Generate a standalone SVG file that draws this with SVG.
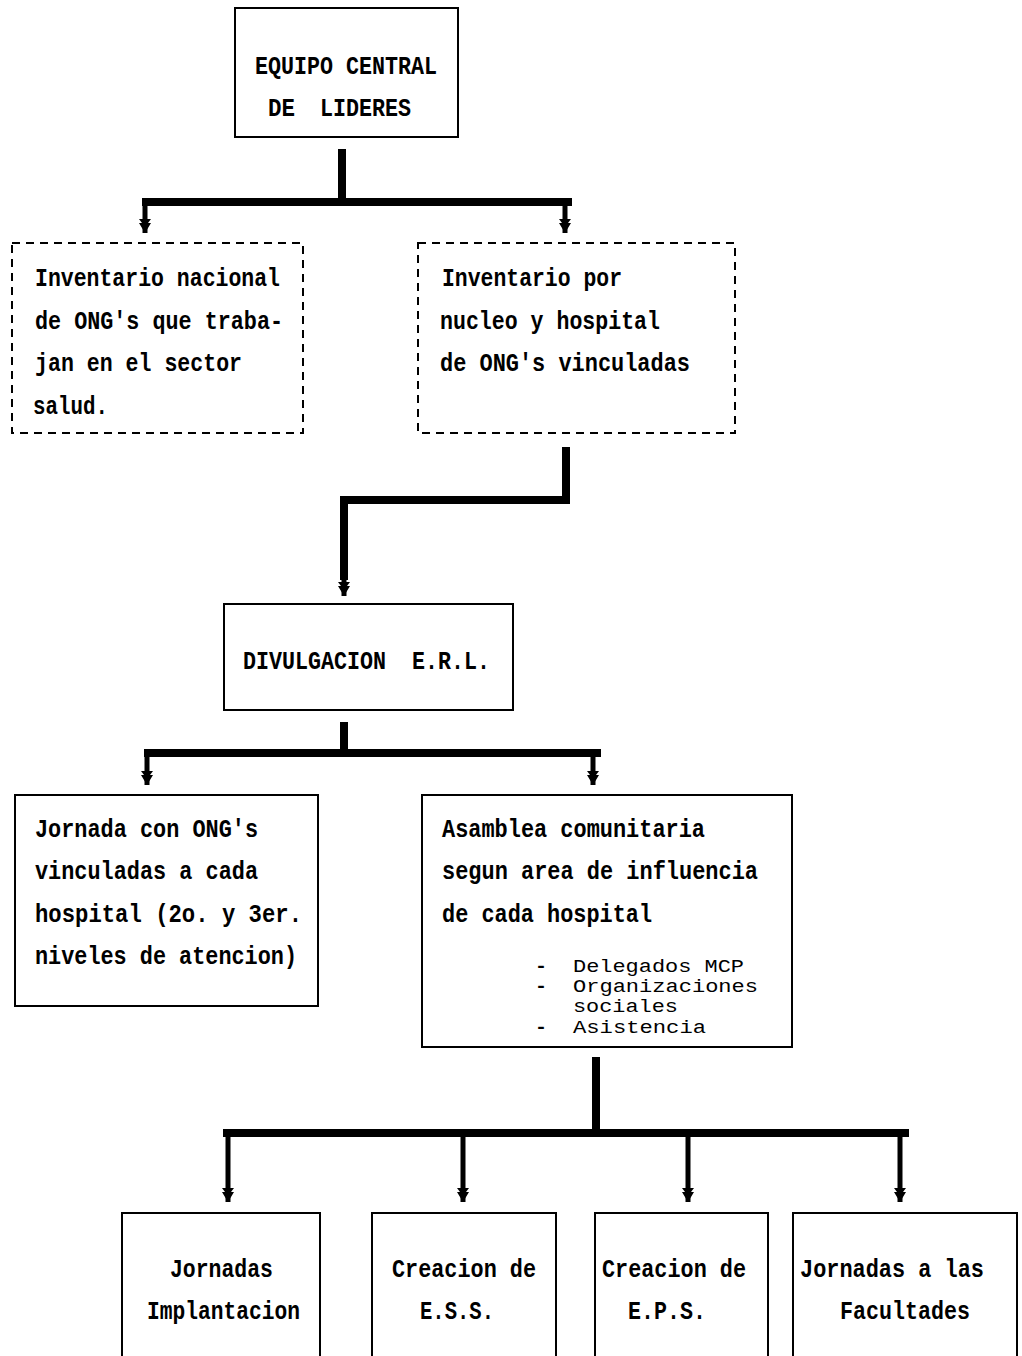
<svg xmlns="http://www.w3.org/2000/svg" width="1022" height="1356" viewBox="0 0 1022 1356">
<style>
.box{fill:#fff;stroke:#000;stroke-width:2}
.dash{fill:none;stroke:#000;stroke-width:2;stroke-dasharray:8 6}
.t{font-family:"Liberation Mono","DejaVu Sans Mono",monospace;font-size:26px;font-weight:bold;fill:#000}
.s{font-family:"Liberation Mono","DejaVu Sans Mono",monospace;font-size:18px;fill:#000}
.d{font-family:"Liberation Mono","DejaVu Sans Mono",monospace;font-size:18px;font-weight:bold;fill:#000}
.bar{fill:none;stroke:#000;stroke-width:8;stroke-linejoin:miter}
.drop{fill:none;stroke:#000;stroke-width:5}
</style>
<defs>
<marker id="ah" markerUnits="userSpaceOnUse" markerWidth="16" markerHeight="14" refX="15" refY="7" orient="auto" viewBox="0 0 16 14">
<path d="M1,1 L5,4 L5,1 L15,7 L5,13 L5,10 L1,13 Z" fill="#000"/>
</marker>
</defs>
<rect width="1022" height="1356" fill="#fff"/>
<g id="connectors">
<path class="bar" d="M342,149 V202"/>
<path class="bar" d="M142,202 H572"/>
<path class="drop" d="M145,202 V233" marker-end="url(#ah)"/>
<path class="drop" d="M565,202 V233" marker-end="url(#ah)"/>
<path class="bar" d="M566,447 V500 H344 V580"/>
<path class="drop" d="M344,575 V596" marker-end="url(#ah)"/>
<path class="bar" d="M344,722 V753"/>
<path class="bar" d="M144,753 H601"/>
<path class="drop" d="M147,753 V785" marker-end="url(#ah)"/>
<path class="drop" d="M593,753 V785" marker-end="url(#ah)"/>
<path class="bar" d="M596,1057 V1133"/>
<path class="bar" d="M223,1133 H909"/>
<path class="drop" d="M228,1133 V1202" marker-end="url(#ah)"/>
<path class="drop" d="M463,1133 V1202" marker-end="url(#ah)"/>
<path class="drop" d="M688,1133 V1202" marker-end="url(#ah)"/>
<path class="drop" d="M900,1133 V1202" marker-end="url(#ah)"/>
</g>
<g id="equipo">
<rect class="box" x="235" y="8" width="223" height="129"/>
<text class="t" x="255" y="74" textLength="182" lengthAdjust="spacingAndGlyphs">EQUIPO CENTRAL</text>
<text class="t" x="268" y="116" textLength="27" lengthAdjust="spacingAndGlyphs">DE</text>
<text class="t" x="320" y="116" textLength="91" lengthAdjust="spacingAndGlyphs">LIDERES</text>
</g>
<g id="inv-nacional">
<rect class="dash" x="12" y="243" width="291" height="190"/>
<text class="t" x="35" y="286" textLength="245" lengthAdjust="spacingAndGlyphs">Inventario nacional</text>
<text class="t" x="35" y="329" textLength="248" lengthAdjust="spacingAndGlyphs">de ONG's que traba-</text>
<text class="t" x="35" y="371" textLength="207" lengthAdjust="spacingAndGlyphs">jan en el sector</text>
<text class="t" x="33" y="414" textLength="75" lengthAdjust="spacingAndGlyphs">salud.</text>
</g>
<g id="inv-nucleo">
<rect class="dash" x="418" y="243" width="317" height="190"/>
<text class="t" x="442" y="286" textLength="180" lengthAdjust="spacingAndGlyphs">Inventario por</text>
<text class="t" x="440" y="329" textLength="220" lengthAdjust="spacingAndGlyphs">nucleo y hospital</text>
<text class="t" x="440" y="371" textLength="250" lengthAdjust="spacingAndGlyphs">de ONG's vinculadas</text>
</g>
<g id="divulgacion">
<rect class="box" x="224" y="604" width="289" height="106"/>
<text class="t" x="243" y="669" textLength="247" lengthAdjust="spacingAndGlyphs" xml:space="preserve">DIVULGACION  E.R.L.</text>
</g>
<g id="jornada-ong">
<rect class="box" x="15" y="795" width="303" height="211"/>
<text class="t" x="35" y="837" textLength="223" lengthAdjust="spacingAndGlyphs">Jornada con ONG's</text>
<text class="t" x="35" y="879" textLength="223" lengthAdjust="spacingAndGlyphs">vinculadas a cada</text>
<text class="t" x="35" y="922" textLength="267" lengthAdjust="spacingAndGlyphs">hospital (2o. y 3er.</text>
<text class="t" x="35" y="964" textLength="262" lengthAdjust="spacingAndGlyphs">niveles de atencion)</text>
</g>
<g id="asamblea">
<rect class="box" x="422" y="795" width="370" height="252"/>
<text class="t" x="442" y="837" textLength="263" lengthAdjust="spacingAndGlyphs">Asamblea comunitaria</text>
<text class="t" x="442" y="879" textLength="316" lengthAdjust="spacingAndGlyphs">segun area de influencia</text>
<text class="t" x="442" y="922" textLength="210" lengthAdjust="spacingAndGlyphs">de cada hospital</text>
<text class="d" x="535" y="972" textLength="12" lengthAdjust="spacingAndGlyphs">-</text>
<text class="s" x="573" y="972" textLength="171" lengthAdjust="spacingAndGlyphs">Delegados MCP</text>
<text class="d" x="535" y="992" textLength="12" lengthAdjust="spacingAndGlyphs">-</text>
<text class="s" x="573" y="992" textLength="185" lengthAdjust="spacingAndGlyphs">Organizaciones</text>
<text class="s" x="573" y="1012" textLength="105" lengthAdjust="spacingAndGlyphs">sociales</text>
<text class="d" x="535" y="1033" textLength="12" lengthAdjust="spacingAndGlyphs">-</text>
<text class="s" x="573" y="1033" textLength="133" lengthAdjust="spacingAndGlyphs">Asistencia</text>
</g>
<g id="jornadas-implantacion">
<rect class="box" x="122" y="1213" width="198" height="160"/>
<text class="t" x="170" y="1277" textLength="103" lengthAdjust="spacingAndGlyphs">Jornadas</text>
<text class="t" x="147" y="1319" textLength="153" lengthAdjust="spacingAndGlyphs">Implantacion</text>
</g>
<g id="ess">
<rect class="box" x="372" y="1213" width="184" height="160"/>
<text class="t" x="392" y="1277" textLength="144" lengthAdjust="spacingAndGlyphs">Creacion de</text>
<text class="t" x="420" y="1319" textLength="74" lengthAdjust="spacingAndGlyphs">E.S.S.</text>
</g>
<g id="eps">
<rect class="box" x="595" y="1213" width="173" height="160"/>
<text class="t" x="602" y="1277" textLength="144" lengthAdjust="spacingAndGlyphs">Creacion de</text>
<text class="t" x="628" y="1319" textLength="78" lengthAdjust="spacingAndGlyphs">E.P.S.</text>
</g>
<g id="facultades">
<rect class="box" x="793" y="1213" width="224" height="160"/>
<text class="t" x="800" y="1277" textLength="184" lengthAdjust="spacingAndGlyphs">Jornadas a las</text>
<text class="t" x="840" y="1319" textLength="130" lengthAdjust="spacingAndGlyphs">Facultades</text>
</g>
</svg>
